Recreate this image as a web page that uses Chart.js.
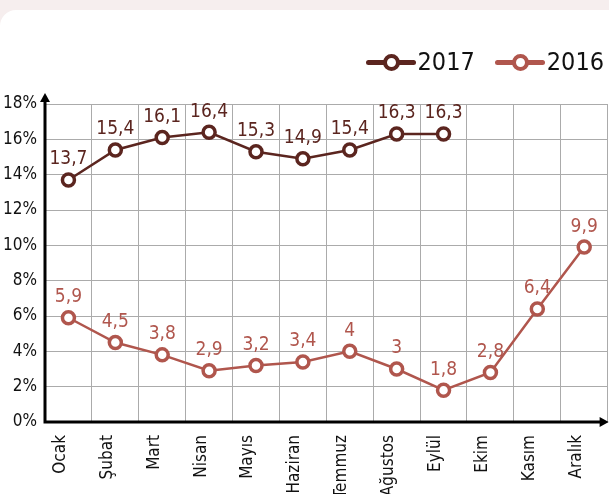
<!DOCTYPE html>
<html>
<head>
<meta charset="utf-8">
<script src="https://cdn.jsdelivr.net/npm/chart.js@4/dist/chart.umd.min.js"></script>
<style>
  html, body { margin: 0; padding: 0; background: #f6eeee; }
  #wrap { position: relative; width: 609px; height: 494px; overflow: hidden; }
  #card { position: absolute; left: 0; top: 10px; width: 640px; height: 500px;
          background: #ffffff; border-top-left-radius: 16px; }
  #chart { position: absolute; left: 0; top: 0; }
  #legend { position: absolute; top: 47px; right: 5px; display: flex; gap: 20px;
            font-family: 'Liberation Sans Narrow', 'DejaVu Sans Condensed', sans-serif;
            font-size: 25px; color: #111; }
  .item { display: flex; align-items: center; }
  .mark { position: relative; width: 50px; height: 24px; margin-right: 2px; }
  .mark .ln { position: absolute; left: 0; right: 0; top: 10px; height: 5px; border-radius: 2.5px; }
  .mark .dot { position: absolute; left: 17px; top: 4px; width: 9px; height: 9px;
               border-radius: 50%; background: #fff; border: 4px solid; }
</style>
</head>
<body>
<div id="wrap">
  <div id="card"></div>
  <canvas id="chart" width="618" height="494"></canvas>
  <div id="legend"></div>
</div>
<script>
// Months
const months = ['Ocak', 'Şubat', 'Mart', 'Nisan', 'Mayıs', 'Haziran', 'Temmuz',
  'Ağustos', 'Eylül', 'Ekim', 'Kasım', 'Aralık'];
// Series values (%)
const values2017 = [13.7, 15.4, 16.1, 16.4, 15.3, 14.9, 15.4, 16.3, 16.3, null, null, null];
const values2016 = [5.9, 4.5, 3.8, 2.9, 3.2, 3.4, 4, 3, 1.8, 2.8, 6.4, 9.9];
const yTicks = [0, 2, 4, 6, 8, 10, 12, 14, 16, 18];

const C2017 = '#5b251f';
const C2016 = '#b0564d';
const FONT = "'Liberation Sans Narrow', 'DejaVu Sans Condensed', sans-serif";

// HTML legend
const legend = document.getElementById('legend');
[['2017', C2017], ['2016', C2016]].forEach(([name, col]) => {
  const it = document.createElement('div');
  it.className = 'item';
  it.innerHTML = `<span class="mark"><span class="ln" style="background:${col}"></span>` +
    `<span class="dot" style="border-color:${col}"></span></span><span>${name}</span>`;
  legend.appendChild(it);
});

// Plugin: value labels above points
const valueLabels = {
  id: 'valueLabels',
  afterDatasetsDraw(ch) {
    const c = ch.ctx;
    c.save();
    c.font = `19px ${FONT}`;
    c.textAlign = 'center';
    c.textBaseline = 'bottom';
    ch.data.datasets.forEach((ds, di) => {
      const meta = ch.getDatasetMeta(di);
      meta.data.forEach((pt, i) => {
        const v = ds.data[i];
        if (v == null) return;
        c.fillStyle = ds.borderColor;
        c.fillText(String(v).replace('.', ','), pt.x, pt.y - 11);
      });
    });
    c.restore();
  },
};

// Plugin: black axes with arrow heads
const arrowAxes = {
  id: 'arrowAxes',
  afterDraw(ch) {
    const { ctx: c, chartArea: a } = ch;
    c.save();
    c.strokeStyle = '#000';
    c.fillStyle = '#000';
    c.lineWidth = 3;
    c.beginPath();
    c.moveTo(a.left, a.bottom);
    c.lineTo(a.left, a.top - 6);
    c.moveTo(a.left - 1.5, a.bottom);
    c.lineTo(a.right - 4, a.bottom);
    c.stroke();
    // up arrow
    c.beginPath();
    c.moveTo(a.left, a.top - 11);
    c.lineTo(a.left - 5, a.top - 2);
    c.lineTo(a.left + 5, a.top - 2);
    c.closePath();
    c.fill();
    // right arrow
    c.beginPath();
    c.moveTo(a.right + 1, a.bottom);
    c.lineTo(a.right - 8, a.bottom - 5);
    c.lineTo(a.right - 8, a.bottom + 5);
    c.closePath();
    c.fill();
    c.restore();
  },
};

const series = (label, data, col) => ({
  label,
  data,
  borderColor: col,
  backgroundColor: '#ffffff',
  borderWidth: 2.5,
  pointRadius: 6,
  pointBorderWidth: 3.5,
  pointBackgroundColor: '#ffffff',
  pointBorderColor: col,
  spanGaps: false,
  clip: false,
});

new Chart(document.getElementById('chart'), {
  type: 'line',
  plugins: [valueLabels, arrowAxes],
  data: {
    labels: months,
    datasets: [series('2017', values2017, C2017), series('2016', values2016, C2016)],
  },
  options: {
    responsive: false,
    animation: false,
    layout: { padding: { top: 104, right: 0, left: 0, bottom: 0 } },
    plugins: { legend: { display: false }, tooltip: { enabled: false } },
    scales: {
      x: {
        type: 'category',
        offset: true,
        afterFit: s => { s.height = 72; },
        grid: { offset: true, color: '#ababab', lineWidth: 1, drawTicks: false },
        border: { display: false },
        ticks: {
          color: '#111',
          font: { family: FONT, size: 17 },
          minRotation: 90,
          maxRotation: 90,
          padding: 13,
          labelOffset: -8,
          autoSkip: false,
        },
      },
      y: {
        min: 0,
        max: 18,
        afterFit: s => { s.width = 45; },
        afterBuildTicks: s => { s.ticks = yTicks.map(v => ({ value: v })); },
        grid: { color: '#ababab', lineWidth: 1, drawTicks: false },
        border: { display: false },
        ticks: {
          color: '#111',
          font: { family: FONT, size: 17 },
          padding: 8,
          callback: v => `${v}%`,
        },
      },
    },
  },
});
</script>
</body>
</html>
